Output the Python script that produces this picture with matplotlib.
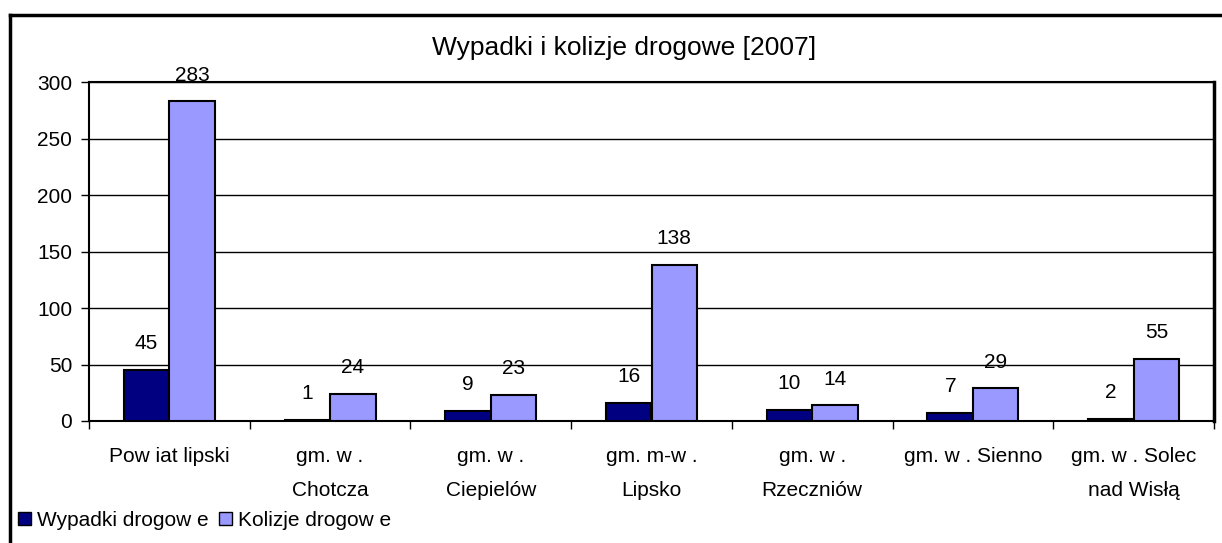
import numpy as np
import matplotlib
matplotlib.use('Agg')
import matplotlib.pyplot as plt
from matplotlib.patches import Patch
from matplotlib.lines import Line2D

# dane
kategorie = ['Pow iat lipski', 'gm. w .\nChotcza', 'gm. w .\nCiepielów', 'gm. m-w .\nLipsko',
             'gm. w .\nRzeczniów', 'gm. w . Sienno', 'gm. w . Solec\nnad Wisłą']
wypadki = [45, 1, 9, 16, 10, 7, 2]
kolizje = [283, 24, 23, 138, 14, 29, 55]
nazwy_serii = ['Wypadki drogow e', 'Kolizje drogow e']
kolory = ['#000080', '#9999FF']

plt.rcParams['font.family'] = ['Liberation Sans', 'DejaVu Sans']

W, H = 1222, 543
fig = plt.figure(figsize=(W / 100, H / 100), dpi=100)
ax = fig.add_axes([89 / W, 1 - 421 / H, (1214 - 89) / W, (421 - 82) / H])

x = np.arange(len(kategorie))
szer = 0.283
b1 = ax.bar(x - szer / 2, wypadki, szer, color=kolory[0], edgecolor='black', linewidth=1.5, zorder=3)
b2 = ax.bar(x + szer / 2, kolizje, szer, color=kolory[1], edgecolor='black', linewidth=1.5, zorder=3)

for bars, vals in [(b1, wypadki), (b2, kolizje)]:
    for b, v in zip(bars, vals):
        ax.annotate(str(v), (b.get_x() + b.get_width() / 2, v), xytext=(0, 12),
                    textcoords='offset points', ha='center', va='bottom', fontsize=15)

ax.set_xlim(-0.5, len(kategorie) - 0.5)
ax.set_ylim(0, 300)
ax.set_yticks(range(0, 301, 50))
ax.yaxis.grid(True, color='black', linewidth=1, zorder=0)
ax.set_xticks(np.arange(len(kategorie) + 1) - 0.5)
ax.set_xticklabels([])
ax.set_xticks(x, minor=True)
ax.set_xticklabels(kategorie, minor=True, fontsize=15, linespacing=2.0)
ax.tick_params(axis='x', which='minor', length=0, pad=19)
ax.tick_params(axis='x', which='major', length=6, width=1, direction='out')
ax.tick_params(axis='y', length=6, width=1, direction='out', labelsize=15, pad=6)
for s in ax.spines.values():
    s.set_linewidth(1.5)
ax.spines['right'].set_linewidth(2.5)

fig.text(624 / W, 1 - 48 / H, 'Wypadki i kolizje drogowe [2007]', ha='center', va='center', fontsize=19)

# ramka wykresu
fig.add_artist(Line2D([10 / W, 10 / W], [0, 1 - 15 / H], color='black', linewidth=2.5))
fig.add_artist(Line2D([10 / W, 1], [1 - 15 / H, 1 - 15 / H], color='black', linewidth=2.5))

uchwyty = [Patch(facecolor=kolory[0], edgecolor='black'), Patch(facecolor=kolory[1], edgecolor='black')]
fig.legend(uchwyty, nazwy_serii, loc='center left', bbox_to_anchor=(8 / W, 1 - 520 / H), ncol=2,
           frameon=False, fontsize=15, handlelength=0.6, handleheight=0.6, handletextpad=0.3,
           columnspacing=0.5, borderpad=0)

fig.savefig('out.png', dpi=100)
